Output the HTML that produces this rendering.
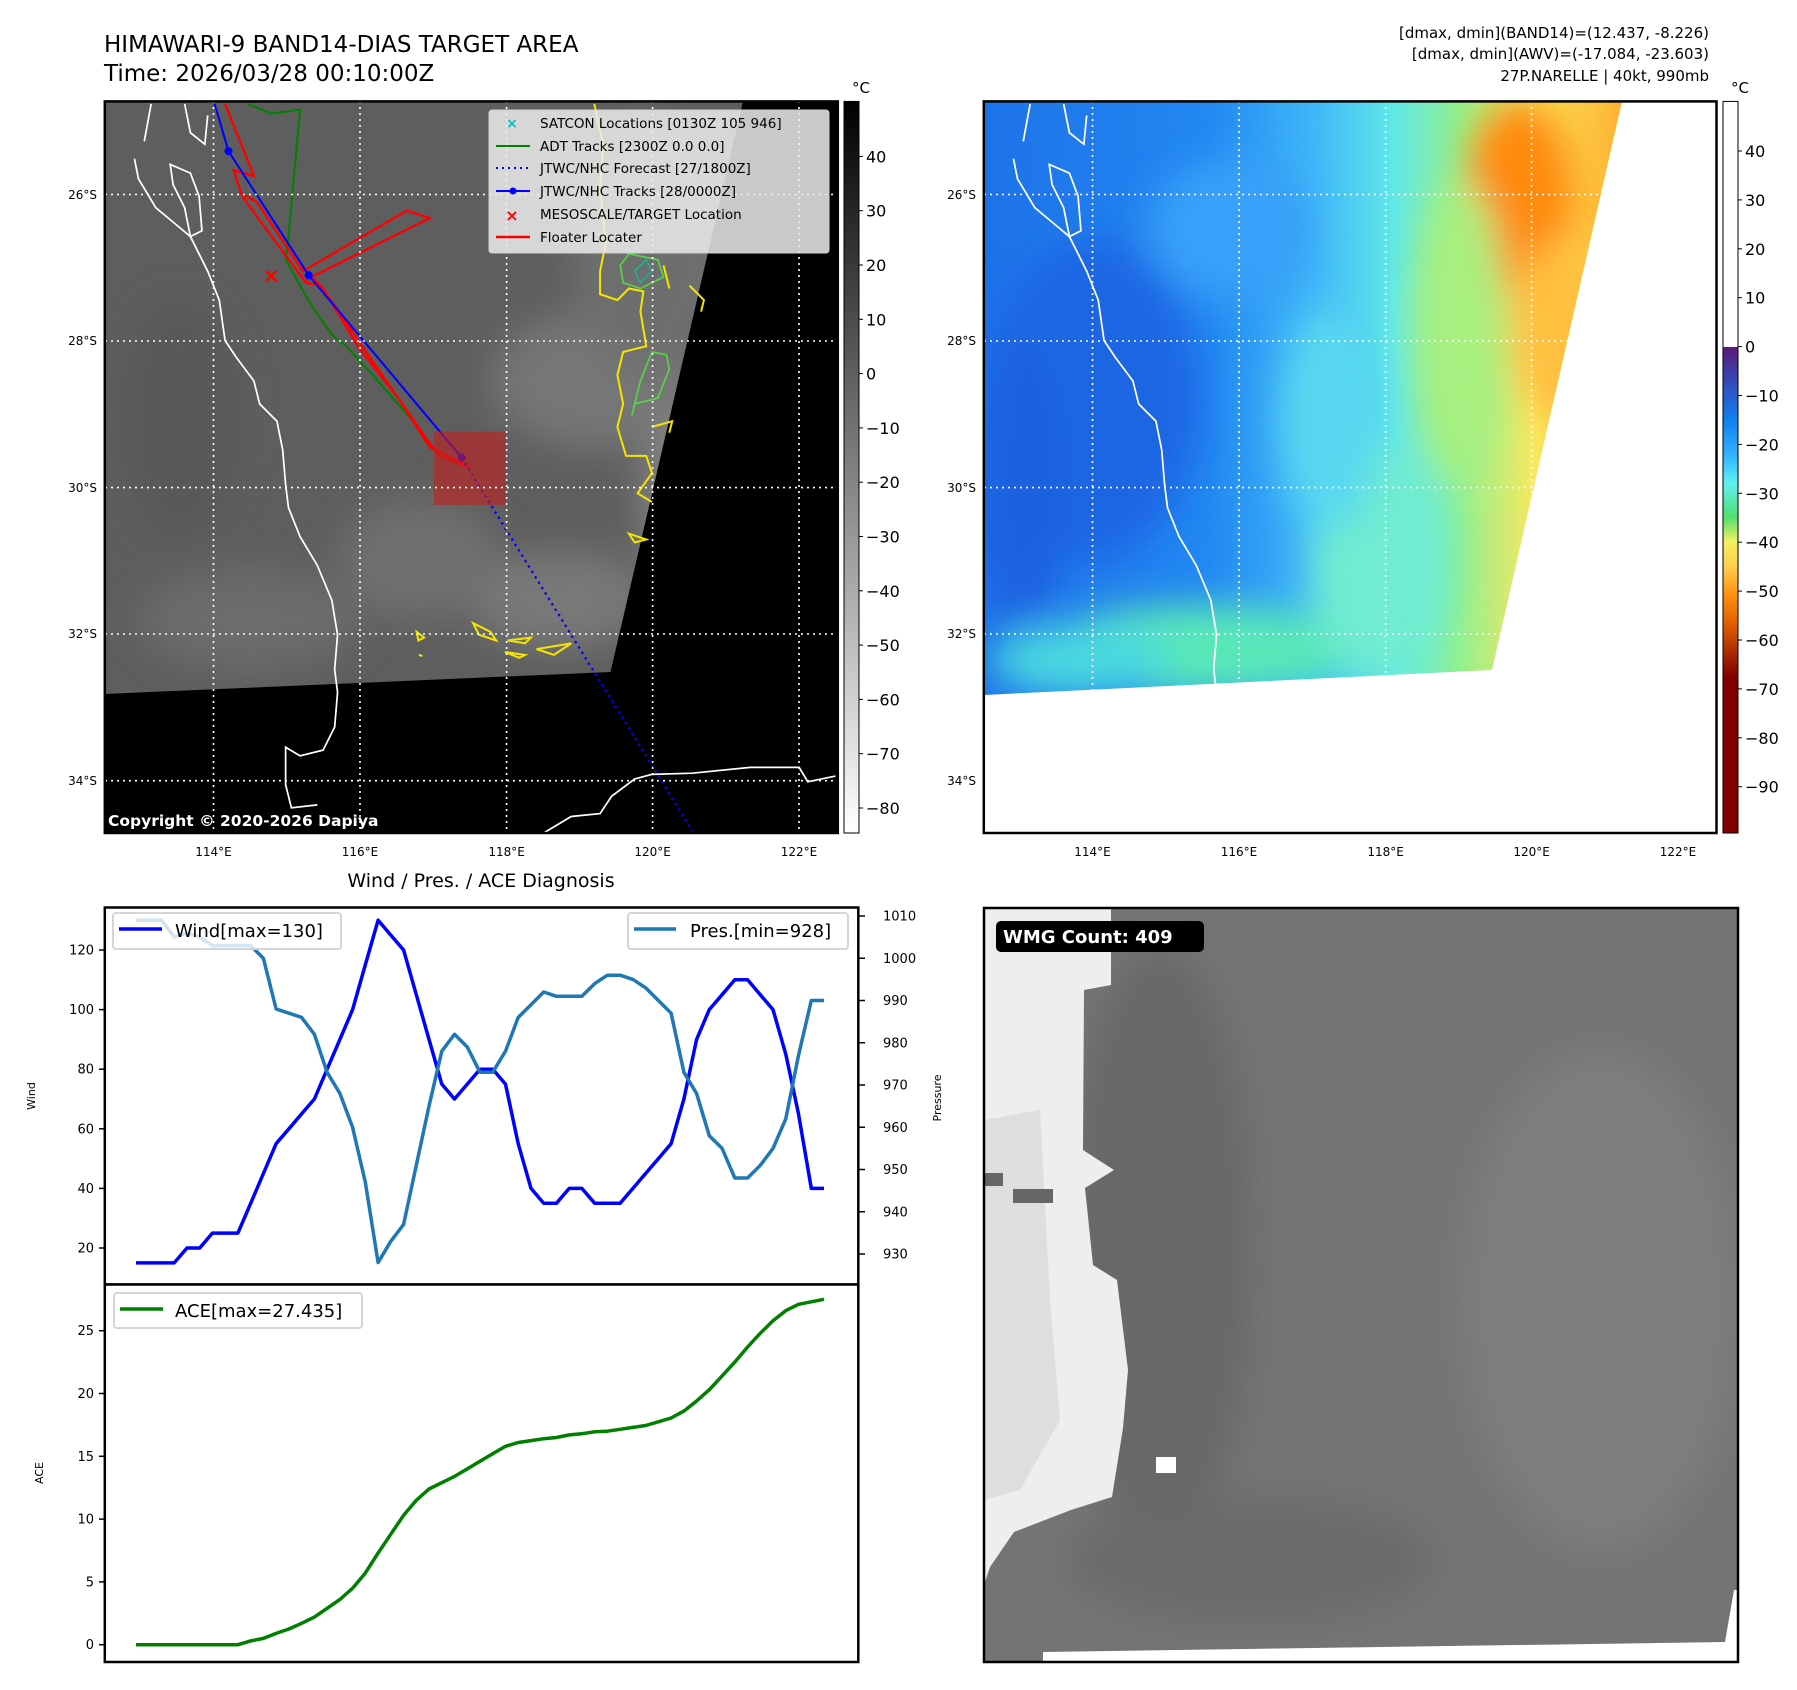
<!DOCTYPE html>
<html><head><meta charset="utf-8">
<style>
html,body{margin:0;padding:0;background:#fff;}
svg{display:block;font-family:"DejaVu Sans","Liberation Sans",sans-serif;}
</style></head>
<body>
<svg id="root" width="1797" height="1690" viewBox="0 0 1797 1690" xmlns="http://www.w3.org/2000/svg">
<defs>
  <clipPath id="clipL"><rect x="104.8" y="101.4" width="733" height="731.6"/></clipPath>
  <clipPath id="clipR"><rect x="983.8" y="101.4" width="732.7" height="731.6"/></clipPath>
  <clipPath id="clipRD"><polygon points="984,101.4 1622,101.4 1492,670 984,695"/></clipPath>
  <clipPath id="clipLD"><polygon points="104.8,101.4 743,101.4 610.5,672 104.8,694"/></clipPath>
  <clipPath id="clipBR"><rect x="984" y="908" width="754" height="754"/></clipPath>
  <filter id="blur1" x="-50%" y="-50%" width="200%" height="200%"><feGaussianBlur stdDeviation="18"/></filter>
  <filter id="blur2" x="-50%" y="-50%" width="200%" height="200%"><feGaussianBlur stdDeviation="8"/></filter>
  <linearGradient id="cbGrey" x1="0" y1="0" x2="0" y2="1">
    <stop offset="0" stop-color="#000"/><stop offset="1" stop-color="#fff"/>
  </linearGradient>
  <linearGradient id="cbColor" x1="0" y1="0" x2="0" y2="1">
    <stop offset="0" stop-color="#5a1a78"/>
    <stop offset="0.08" stop-color="#3050c0"/>
    <stop offset="0.15" stop-color="#1080f0"/>
    <stop offset="0.22" stop-color="#30b0ff"/>
    <stop offset="0.28" stop-color="#60f0f0"/>
    <stop offset="0.35" stop-color="#50e070"/>
    <stop offset="0.40" stop-color="#f0f060"/>
    <stop offset="0.45" stop-color="#ffd050"/>
    <stop offset="0.51" stop-color="#ff9010"/>
    <stop offset="0.57" stop-color="#e06000"/>
    <stop offset="0.64" stop-color="#a02000"/>
    <stop offset="0.68" stop-color="#800000"/>
    <stop offset="1" stop-color="#800000"/>
  </linearGradient>
  <linearGradient id="rBase" x1="0" y1="0" x2="1" y2="0">
    <stop offset="0" stop-color="#1e72e8"/>
    <stop offset="0.35" stop-color="#2288f2"/>
    <stop offset="0.52" stop-color="#40b8f8"/>
    <stop offset="0.64" stop-color="#60e8e8"/>
    <stop offset="0.74" stop-color="#90f090"/>
    <stop offset="0.86" stop-color="#f8e860"/>
    <stop offset="1" stop-color="#ffb030"/>
  </linearGradient>
</defs>

<text x="104" y="52" font-size="23">HIMAWARI-9 BAND14-DIAS TARGET AREA</text>
<text x="104" y="81" font-size="23">Time: 2026/03/28 00:10:00Z</text>
<g font-size="15" text-anchor="end">
  <text x="1709" y="38">[dmax, dmin](BAND14)=(12.437, -8.226)</text>
  <text x="1709" y="59">[dmax, dmin](AWV)=(-17.084, -23.603)</text>
  <text x="1709" y="81">27P.NARELLE | 40kt, 990mb</text>
</g>

<!-- LEFT MAP -->
<g>
  <rect x="104.8" y="101.4" width="733" height="731.6" fill="#000"/>
  <g clip-path="url(#clipLD)">
    <rect x="104" y="100" width="740" height="600" fill="#5e5e5e"/>
    <g filter="url(#blur1)">
      <ellipse cx="600" cy="380" rx="110" ry="70" fill="#767676"/>
      <ellipse cx="650" cy="250" rx="80" ry="120" fill="#6e6e6e"/>
      <ellipse cx="560" cy="600" rx="90" ry="50" fill="#787878"/>
      <ellipse cx="420" cy="560" rx="80" ry="60" fill="#707070"/>
      <ellipse cx="250" cy="620" rx="110" ry="50" fill="#6c6c6c"/>
      <ellipse cx="180" cy="420" rx="60" ry="120" fill="#585858"/>
      <ellipse cx="700" cy="500" rx="60" ry="100" fill="#828282"/>
    </g>
  </g>
  <g clip-path="url(#clipL)">
    <g transform="scale(0.5770)" fill="none">
      <path stroke="#fff" stroke-width="3" d="M262,180 L250,245 M233,275 L240,310 L270,360 L300,385 L330,410 L360,470 L380,520 L390,590 L410,620 L440,660 L450,700 L480,730 L490,780 L495,840 L500,880 L520,930 L550,980 L575,1040 L585,1100 L580,1160 L585,1200 L580,1260 L560,1300 L520,1310 L495,1295 L495,1360 L505,1400 L550,1395 M940,1445 L990,1415 L1040,1410 L1060,1380 L1100,1350 L1130,1342 L1200,1340 L1300,1330 L1385,1330 L1400,1355 L1448,1345 M295,285 L330,300 L345,340 L350,400 L330,410 L320,360 L300,320 Z M320,180 L330,230 L355,250 L360,200"/>
      <path stroke="#f5e400" stroke-width="3.5" d="M1030,180 L1045,250 L1040,330 L1050,420 L1040,470 L1040,510 L1070,520 L1090,500 L1115,505 L1110,540 L1120,600 L1080,610 L1070,650 L1080,700 L1070,740 L1085,790 L1120,790 L1130,820 L1105,855 L1130,870 M1150,460 L1160,500 M1195,495 L1220,520 L1215,540 M1130,740 L1165,730 L1160,750 M1090,925 L1120,935 L1100,940 Z M820,1080 L850,1095 L860,1110 L830,1100 Z M880,1110 L920,1105 L910,1115 Z M875,1130 L910,1135 L900,1140 Z M930,1125 L960,1120 L990,1115 L960,1135 Z M722,1095 L735,1105 L725,1110 Z M726,1135 L732,1137"/>
      <path stroke="#5ad04a" stroke-width="3" d="M1075,460 L1090,440 L1140,450 L1150,480 L1110,500 L1080,490 Z M1130,610 L1155,615 L1160,640 L1140,690 L1100,700 L1095,720 L1110,660 Z"/>
      <path stroke="#20b090" stroke-width="3" d="M1100,470 L1120,450 L1130,470 L1110,490 Z"/>
      <path stroke="#008000" stroke-width="3.5" d="M430,180 L470,197 L520,190 L500,410 L495,450 L540,530 L575,580 L600,600 L655,660 L720,735"/>
      <path stroke="#ff0000" stroke-width="4" d="M390,180 L440,305 L405,295 L418,335 L445,350 L525,470 L705,365 L745,378 L540,480 L560,500 L620,600 L690,690 L745,775 L815,810 L760,790 L725,740 L655,640 L580,530 L555,495 L530,490 L445,375 L420,340 M535,475 L530,490"/>
      <path stroke="#0000ff" stroke-width="4" stroke-dasharray="4,7" d="M800,793 L1200,1440"/>
      <path stroke="#0000ff" stroke-width="3.5" d="M372,180 L396,262 L535,477 L800,793"/>
      <circle cx="396" cy="262" r="7" fill="#0000ff"/><circle cx="535" cy="477" r="7" fill="#0000ff"/><circle cx="800" cy="793" r="7" fill="#0000ff"/>
      <rect x="752" y="748" width="125" height="127" fill="#c02020" fill-opacity="0.62"/>
      <text x="470" y="490" font-size="36" fill="#ff0000" font-weight="bold" text-anchor="middle">×</text>
    </g>
    <g stroke="#fff" stroke-width="1.6" stroke-dasharray="2,4">
      <line x1="213.5" y1="101" x2="213.5" y2="833"/><line x1="360" y1="101" x2="360" y2="833"/><line x1="506.6" y1="101" x2="506.6" y2="833"/><line x1="652.6" y1="101" x2="652.6" y2="833"/><line x1="799" y1="101" x2="799" y2="833"/>
      <line x1="105" y1="194.5" x2="838" y2="194.5"/><line x1="105" y1="341" x2="838" y2="341"/><line x1="105" y1="487.6" x2="838" y2="487.6"/><line x1="105" y1="634" x2="838" y2="634"/><line x1="105" y1="780.7" x2="838" y2="780.7"/>
    </g>
    <text x="108" y="826" font-size="15.5" font-weight="bold" fill="#fff">Copyright © 2020-2026 Dapiya</text>
  </g>
  <rect x="104.8" y="101.4" width="733" height="731.6" fill="none" stroke="#000" stroke-width="2.5"/>
  <g>
    <rect x="489" y="110" width="340" height="143" rx="3" fill="#ececec" fill-opacity="0.85" stroke="#d0d0d0"/>
    <g font-size="13.5">
      <text x="512" y="128" fill="#00bfbf" font-weight="bold" font-size="14" text-anchor="middle">×</text><text x="540" y="128">SATCON Locations [0130Z 105 946]</text>
      <line x1="496" y1="146" x2="530" y2="146" stroke="#008000" stroke-width="2"/><text x="540" y="151">ADT Tracks [2300Z 0.0 0.0]</text>
      <line x1="496" y1="168" x2="530" y2="168" stroke="#0000ff" stroke-width="2" stroke-dasharray="2,4"/><text x="540" y="173">JTWC/NHC Forecast [27/1800Z]</text>
      <line x1="496" y1="191" x2="530" y2="191" stroke="#0000ff" stroke-width="2"/><circle cx="513" cy="191" r="3.5" fill="#0000ff"/><text x="540" y="196">JTWC/NHC Tracks [28/0000Z]</text>
      <text x="512" y="221" fill="#ff0000" font-weight="bold" font-size="16" text-anchor="middle">×</text><text x="540" y="219">MESOSCALE/TARGET Location</text>
      <line x1="496" y1="237" x2="530" y2="237" stroke="#ff0000" stroke-width="2.5"/><text x="540" y="242">Floater Locater</text>
    </g>
  </g>
  <g font-size="12" text-anchor="end">
    <text x="97" y="199">26°S</text><text x="97" y="345">28°S</text><text x="97" y="492">30°S</text><text x="97" y="638">32°S</text><text x="97" y="785">34°S</text>
  </g>
  <g font-size="12" text-anchor="middle">
    <text x="213.5" y="856">114°E</text><text x="360" y="856">116°E</text><text x="506.6" y="856">118°E</text><text x="652.6" y="856">120°E</text><text x="799" y="856">122°E</text>
  </g>
  <g>
    <rect x="844" y="101.4" width="15" height="731.6" fill="url(#cbGrey)" stroke="#000" stroke-width="1"/>
    <text x="852" y="93" font-size="15">°C</text>
    <g id="cbL" font-size="16"></g>
  </g>
</g>

<!-- RIGHT MAP -->
<g>
  <rect x="983.8" y="101.4" width="732.7" height="731.6" fill="#fff"/>
  <g clip-path="url(#clipRD)">
    <rect x="984" y="100" width="640" height="600" fill="url(#rBase)"/>
    <g filter="url(#blur1)">
      <ellipse cx="1090" cy="400" rx="110" ry="160" fill="#1a66e4"/>
      <ellipse cx="1020" cy="480" rx="50" ry="140" fill="#1a62e0"/>
      <ellipse cx="1200" cy="650" rx="160" ry="45" fill="#58e8b8"/>
      <ellipse cx="1080" cy="660" rx="90" ry="35" fill="#48d8e0"/>
      <ellipse cx="1380" cy="560" rx="70" ry="120" fill="#70ecd0"/>
      <ellipse cx="1330" cy="420" rx="50" ry="110" fill="#58d8f0"/>
      <ellipse cx="1520" cy="200" rx="55" ry="100" fill="#ff8a10"/>
      <ellipse cx="1560" cy="330" rx="50" ry="90" fill="#ffc040"/>
      <ellipse cx="1460" cy="330" rx="45" ry="150" fill="#a8f080"/>
      <ellipse cx="1230" cy="230" rx="80" ry="70" fill="#38a0f8"/>
    </g>
  </g>
  <g clip-path="url(#clipR)">
    <g transform="translate(879,0) scale(0.5770)" fill="none">
      <path stroke="#fff" stroke-width="3" d="M262,180 L250,245 M233,275 L240,310 L270,360 L300,385 L330,410 L360,470 L380,520 L390,590 L410,620 L440,660 L450,700 L480,730 L490,780 L495,840 L500,880 L520,930 L550,980 L575,1040 L585,1100 L580,1160 L585,1200 L580,1260 L560,1300 L520,1310 L495,1295 L495,1360 L505,1400 L550,1395 M295,285 L330,300 L345,340 L350,400 L330,410 L320,360 L300,320 Z M320,180 L330,230 L355,250 L360,200"/>
    </g>
    <g stroke="#fff" stroke-width="1.6" stroke-dasharray="2,4">
      <line x1="1092.5" y1="101" x2="1092.5" y2="833"/><line x1="1239" y1="101" x2="1239" y2="833"/><line x1="1385.6" y1="101" x2="1385.6" y2="833"/><line x1="1531.6" y1="101" x2="1531.6" y2="833"/><line x1="1678" y1="101" x2="1678" y2="833"/>
      <line x1="984" y1="194.5" x2="1717" y2="194.5"/><line x1="984" y1="341" x2="1717" y2="341"/><line x1="984" y1="487.6" x2="1717" y2="487.6"/><line x1="984" y1="634" x2="1717" y2="634"/><line x1="984" y1="780.7" x2="1717" y2="780.7"/>
    </g>
  </g>
  <rect x="983.8" y="101.4" width="732.7" height="731.6" fill="none" stroke="#000" stroke-width="2.5"/>
  <g font-size="12" text-anchor="end">
    <text x="976" y="199">26°S</text><text x="976" y="345">28°S</text><text x="976" y="492">30°S</text><text x="976" y="638">32°S</text><text x="976" y="785">34°S</text>
  </g>
  <g font-size="12" text-anchor="middle">
    <text x="1092.5" y="856">114°E</text><text x="1239" y="856">116°E</text><text x="1385.6" y="856">118°E</text><text x="1531.6" y="856">120°E</text><text x="1678" y="856">122°E</text>
  </g>
  <g>
    <rect x="1723" y="101.4" width="15" height="245.6" fill="#fff"/>
    <rect x="1723" y="347" width="15" height="486" fill="url(#cbColor)"/>
    <rect x="1723" y="101.4" width="15" height="731.6" fill="none" stroke="#000" stroke-width="1"/>
    <text x="1731" y="93" font-size="15">°C</text>
    <g id="cbR" font-size="16"></g>
  </g>
</g>

<text x="481" y="887" font-size="19" text-anchor="middle">Wind / Pres. / ACE Diagnosis</text>
<g id="diag">
  <rect x="104.8" y="907.5" width="753.5" height="377" fill="#fff" stroke="#000" stroke-width="2.5"/>
  <rect x="104.8" y="1284.5" width="753.5" height="377.5" fill="#fff" stroke="#000" stroke-width="2.5"/>
  <g id="diagLines"></g>
  <g id="diagTicks" font-size="13"></g>
  <text transform="translate(35,1096) rotate(-90)" font-size="11" text-anchor="middle">Wind</text>
  <text transform="translate(941,1098) rotate(-90)" font-size="11" text-anchor="middle">Pressure</text>
  <text transform="translate(43,1473) rotate(-90)" font-size="11" text-anchor="middle">ACE</text>
  <g>
    <rect x="113" y="913" width="228" height="36" rx="3" fill="#fff" fill-opacity="0.8" stroke="#d5d5d5" stroke-width="2"/>
    <line x1="119" y1="929" x2="162" y2="929" stroke="#0000ff" stroke-width="3.5"/>
    <text x="175" y="937" font-size="18">Wind[max=130]</text>
  </g>
  <g>
    <rect x="628" y="913" width="220" height="36" rx="3" fill="#fff" fill-opacity="0.8" stroke="#d5d5d5" stroke-width="2"/>
    <line x1="634" y1="929" x2="676" y2="929" stroke="#1f77b4" stroke-width="3.5"/>
    <text x="690" y="937" font-size="18">Pres.[min=928]</text>
  </g>
  <g>
    <rect x="114" y="1293" width="248" height="35" rx="3" fill="#fff" fill-opacity="0.8" stroke="#d5d5d5" stroke-width="2"/>
    <line x1="120" y1="1309" x2="163" y2="1309" stroke="#008000" stroke-width="3.5"/>
    <text x="175" y="1317" font-size="18">ACE[max=27.435]</text>
  </g>
</g>

<g>
  <g clip-path="url(#clipBR)">
    <rect x="984" y="908" width="754" height="754" fill="#747474"/>
    <g filter="url(#blur1)">
      <ellipse cx="1160" cy="1250" rx="90" ry="300" fill="#686868"/>
      <ellipse cx="1600" cy="1300" rx="140" ry="250" fill="#7e7e7e"/>
      <ellipse cx="1250" cy="1560" rx="180" ry="60" fill="#6a6a6a"/>
    </g>
    <polygon fill="#eeeeee" points="984,908 1111,908 1111,985 1084,990 1083,1150 1114,1170 1085,1188 1093,1265 1117,1280 1128,1370 1123,1428 1112,1497 1071,1510 1014,1532 990,1567 984,1585"/>
    <polygon fill="#dedede" points="984,1120 1040,1110 1050,1300 1060,1420 1020,1490 984,1500"/>
    <rect x="985" y="1173" width="18" height="13" fill="#666"/>
    <rect x="1013" y="1189" width="40" height="14" fill="#666"/>
    <rect x="1156" y="1457" width="20" height="16" fill="#fff"/>
    <polygon fill="#fff" points="1043,1662 1043,1652 1725,1642 1734,1590 1740,1590 1740,1662"/>
  </g>
  <rect x="984" y="908" width="754" height="754" fill="none" stroke="#000" stroke-width="2.5"/>
  <rect x="996" y="921" width="208" height="31" rx="5" fill="#000"/>
  <text x="1003" y="943" font-size="18" font-weight="bold" fill="#fff">WMG Count: 409</text>
</g>

<script>
const windVals = [15,15,15,15,20,20,25,25,25,35,45,55,60,65,70,80,90,100,115,130,125,120,105,90,75,70,75,80,80,75,55,40,35,35,40,40,35,35,35,40,45,50,55,70,90,100,105,110,110,105,100,85,65,40,40];
const presVals = [1009,1009,1009,1005,1006,1005,1003,1003,1003,1003,1000,988,987,986,982,973,968,960,947,928,933,937,951,965,978,982,979,973,973,978,986,989,992,991,991,991,994,996,996,995,993,990,987,973,968,958,955,948,948,951,955,962,977,990,990];
const aceVals = [0,0,0,0,0,0,0,0,0,0.3,0.5,0.9,1.25,1.7,2.2,2.9,3.6,4.5,5.7,7.3,8.8,10.3,11.5,12.4,12.9,13.4,14.0,14.6,15.2,15.8,16.1,16.25,16.4,16.5,16.7,16.8,16.95,17.0,17.15,17.3,17.45,17.75,18.05,18.6,19.4,20.3,21.4,22.5,23.7,24.8,25.8,26.6,27.1,27.3,27.5];
const windTicks = [20,40,60,80,100,120];
const presTicks = [930,940,950,960,970,980,990,1000,1010];
const aceTicks = [0,5,10,15,20,25];
const greyCbTicks = [40,30,20,10,0,-10,-20,-30,-40,-50,-60,-70,-80];
const colorCbTicks = [40,30,20,10,0,-10,-20,-30,-40,-50,-60,-70,-80,-90];

const NS = 'http://www.w3.org/2000/svg';
function xPos(i){ return 136 + i*(824-136)/(windVals.length-1); }
function yWind(v){ return 1248 - (v-20)*2.98; }
function yPres(p){ return 1254 - (p-930)*4.225; }
function yAce(v){ return 1644.7 - v*12.56; }
function yGreyCb(v){ return 156.4 + (40-v)*5.43; }
function yColorCb(v){ return 151 + (40-v)*4.89; }
function fmt(v){ return v<0 ? '\u2212'+Math.abs(v) : String(v); }

function mk(tag, attrs, parent){
  const e = document.createElementNS(NS, tag);
  for (const k in attrs) e.setAttribute(k, attrs[k]);
  parent.appendChild(e); return e;
}
const lines = document.getElementById('diagLines');
const ticks = document.getElementById('diagTicks');

function series(vals, yf, color, name){
  const pts = vals.map((v,i)=> xPos(i).toFixed(1)+','+yf(v).toFixed(1)).join(' ');
  const pl = mk('polyline', {points: pts, fill:'none', stroke: color, 'stroke-width': 3.5, 'stroke-linejoin':'round'}, lines);
  
  
}
series(windVals, yWind, '#0000ff', 'wind-line');
series(presVals, yPres, '#1f77b4', 'pressure-line');
series(aceVals, yAce, '#008000', 'ace-line');

windTicks.forEach(v=>{
  const y = yWind(v);
  mk('line', {x1:99, y1:y, x2:104.8, y2:y, stroke:'#000', 'stroke-width':1.5}, ticks);
  const t = mk('text', {x:94, y:y+4.5, 'text-anchor':'end'}, ticks);
  t.textContent = v;
  
  
});
presTicks.forEach(v=>{
  const y = yPres(v);
  mk('line', {x1:858.3, y1:y, x2:865, y2:y, stroke:'#000', 'stroke-width':1.5}, ticks);
  const t = mk('text', {x:883, y:y+4.5}, ticks);
  t.textContent = v;
  
  
});
aceTicks.forEach(v=>{
  const y = yAce(v);
  mk('line', {x1:99, y1:y, x2:104.8, y2:y, stroke:'#000', 'stroke-width':1.5}, ticks);
  const t = mk('text', {x:94, y:y+4.5, 'text-anchor':'end'}, ticks);
  t.textContent = v;
  
  
});

const cbL = document.getElementById('cbL');
greyCbTicks.forEach(v=>{
  const y = yGreyCb(v);
  mk('line', {x1:859, y1:y, x2:863, y2:y, stroke:'#000', 'stroke-width':1}, cbL);
  const t = mk('text', {x:866, y:y+6}, cbL);
  t.textContent = fmt(v);
  
  
});
const cbR = document.getElementById('cbR');
colorCbTicks.forEach(v=>{
  const y = yColorCb(v);
  mk('line', {x1:1738, y1:y, x2:1742, y2:y, stroke:'#000', 'stroke-width':1}, cbR);
  const t = mk('text', {x:1745, y:y+6}, cbR);
  t.textContent = fmt(v);
  
  
});
</script>
</svg>
</body></html>
